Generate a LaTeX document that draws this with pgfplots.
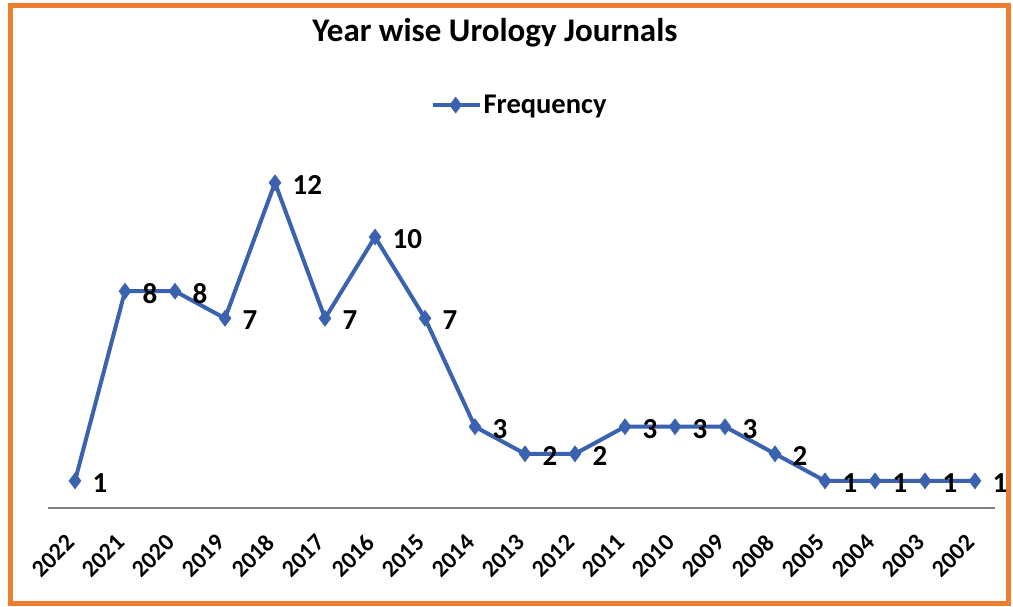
\documentclass[border=0pt]{standalone}
\usepackage{fontspec}
\setmainfont{Carlito}
\usepackage{pgfplots}
\pgfplotsset{compat=1.18}
\definecolor{lineblue}{RGB}{58,98,174}
\definecolor{frameorange}{RGB}{237,125,49}
\begin{document}
\begin{tikzpicture}[x=1pt,y=1pt]
\useasboundingbox (0,0) rectangle (1013,-607);
\fill[white] (0,0) rectangle (1013,-607);
\draw[frameorange, line width=5pt] (10,-6) rectangle (1008,-603);
\begin{axis}[
  at={(48pt,-508pt)}, anchor=south west,
  scale only axis, width=947pt, height=379.4pt,
  xmin=-0.54, xmax=18.4, ymin=0, ymax=14,
  clip=false,
  axis x line=bottom, hide y axis,
  x axis line style={-, draw=gray, line width=2pt},
  major tick length=0pt,
  xtick={0,...,18},
  xticklabels={2022,2021,2020,2019,2018,2017,2016,2015,2014,2013,2012,2011,2010,2009,2008,2005,2004,2003,2002},
  xticklabel style={rotate=45, anchor=east, font=\fontsize{24}{26}\selectfont\bfseries, yshift=-18.5pt, xshift=-21.5pt},
  /pgf/number format/assume math mode=true,
  nodes near coords,
  every node near coord/.append style={anchor=west, xshift=14pt, yshift=-2pt, font=\fontsize{29}{31}\selectfont\bfseries, text=black},
  title={Year wise Urology Journals},
  title style={at={(axis description cs:0.472,1.236)}, anchor=center, font=\fontsize{33}{35}\selectfont\bfseries},
  legend style={at={(axis description cs:0.498,1.062)}, anchor=center, draw=none, fill=none, font=\fontsize{28.5}{30}\selectfont\bfseries, inner sep=0pt},
  legend image code/.code={\draw[#1, mark repeat=2, mark phase=2] plot coordinates {(0pt,0pt) (23pt,0pt) (47pt,0pt)};},
]
\addplot[color=lineblue, line width=4pt, mark=diamond*, mark size=8pt, mark options={line width=0.5pt}] coordinates {
(0,1) (1,8) (2,8) (3,7) (4,12) (5,7) (6,10) (7,7) (8,3) (9,2) (10,2) (11,3) (12,3) (13,3) (14,2) (15,1) (16,1) (17,1) (18,1)
};
\addlegendentry{Frequency}
\end{axis}
\end{tikzpicture}
\end{document}
